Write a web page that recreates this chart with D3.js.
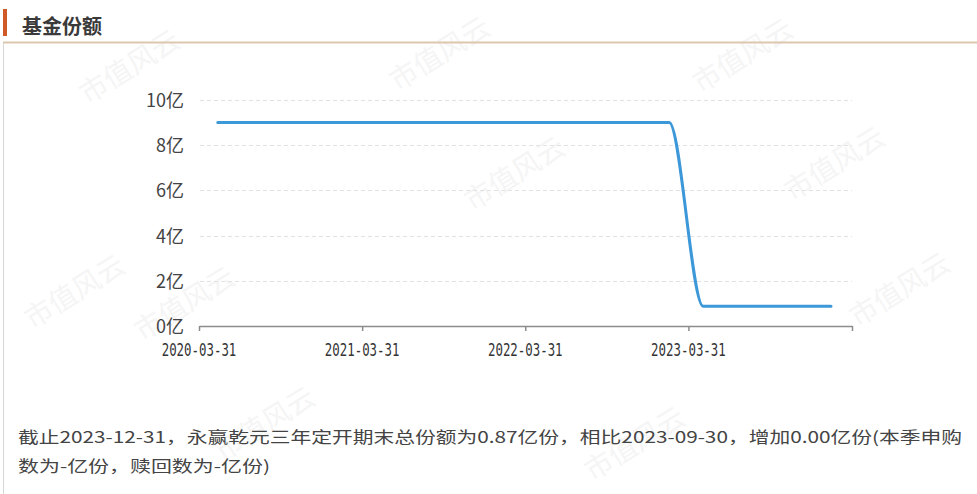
<!DOCTYPE html>
<html>
<head>
<meta charset="utf-8">
<script src="https://cdn.jsdelivr.net/npm/d3@7/dist/d3.min.js"></script>
<style>
  html, body { margin: 0; padding: 0; background: #fff; }
  svg { display: block; }
</style>
</head>
<body>
<svg id="chart" width="977" height="494"></svg>
<script>
// ---- data ----
const title = "基金份额";
const dates = ["2020-05-12","2020-06-30","2020-09-30","2020-12-31","2021-03-31","2021-06-30","2021-09-30","2021-12-31","2022-03-31","2022-06-30","2022-09-30","2022-12-31","2023-02-16","2023-05-03","2023-06-30","2023-09-30","2023-12-31","2024-02-13"];
const shares = [9.0,9.0,9.0,9.0,9.0,9.0,9.0,9.0,9.0,9.0,9.0,9.0,9.0,0.87,0.87,0.87,0.87,0.87];
const xTickLabels = ["2020-03-31","2021-03-31","2022-03-31","2023-03-31"];
const xDomain = ["2020-03-31","2024-03-31"];
const yTicks = [0,2,4,6,8,10];
const yUnit = "亿";
const footerLines = [
  "截止2023-12-31，永赢乾元三年定开期末总份额为0.87亿份，相比2023-09-30，增加0.00亿份(本季申购",
  "数为-亿份，赎回数为-亿份)"
];
const watermark = "市值风云";

// ---- drawing ----
const parse = d3.utcParse("%Y-%m-%d");
const svg = d3.select("#chart");

// watermarks
const wmPos = [[135,75],[445,62],[520,182],[748,64],[840,172],[905,298],[80,300],[190,312],[270,432],[640,452]];
svg.append("g").selectAll("text").data(wmPos).join("text")
  .attr("transform", d => `translate(${d[0]},${d[1]}) rotate(-32)`)
  .attr("text-anchor", "middle")
  .attr("font-family", "Noto Sans CJK SC")
  .attr("font-size", 28)
  .attr("fill", "#f5f5f5")
  .text(watermark);

// header
svg.append("rect").attr("x", 3).attr("y", 9).attr("width", 4).attr("height", 27).attr("fill", "#cf5a28");
svg.append("text").attr("x", 22).attr("y", 34)
  .attr("font-family", "Noto Sans CJK SC").attr("font-weight", "bold")
  .attr("font-size", 20).attr("fill", "#3a3a3a").text(title);
svg.append("line").attr("x1", 3).attr("x2", 977).attr("y1", 42.5).attr("y2", 42.5)
  .attr("stroke", "#dcc7ad").attr("stroke-width", 2);
svg.append("line").attr("x1", 3.5).attr("x2", 3.5).attr("y1", 43).attr("y2", 494)
  .attr("stroke", "#d6d6d6").attr("stroke-width", 1);

// scales
const x = d3.scaleUtc().domain(xDomain.map(parse)).range([199, 852]);
const y = d3.scaleLinear().domain([0, 10]).range([326, 100]);

// grid
svg.append("g").selectAll("line").data(yTicks.filter(d => d > 0)).join("line")
  .attr("x1", 200).attr("x2", 852)
  .attr("y1", d => Math.round(y(d)) + 0.5).attr("y2", d => Math.round(y(d)) + 0.5)
  .attr("stroke", "#e2e2e2").attr("stroke-dasharray", "4,3");

// y labels
svg.append("g").selectAll("text").data(yTicks).join("text")
  .attr("x", 184).attr("y", d => y(d) + 7)
  .attr("text-anchor", "end")
  .attr("font-family", "Noto Sans CJK SC")
  .attr("font-size", 18).attr("fill", "#444")
  .text(d => d + yUnit);

// x axis (line + ticks via d3 axis, labels drawn separately)
const tickDates = xTickLabels.map(parse).concat([parse(xDomain[1])]);
const xAxis = d3.axisBottom(x).tickValues(tickDates).tickSize(5).tickSizeOuter(0).tickFormat("");
const gx = svg.append("g").attr("transform", "translate(0,326)").call(xAxis);
gx.select(".domain").attr("stroke", "#8c8c8c").attr("stroke-width", 1.5);
gx.selectAll(".tick line").attr("stroke", "#8c8c8c").attr("stroke-width", 1.5);

svg.append("g").selectAll("text").data(xTickLabels).join("text")
  .attr("transform", d => `translate(${x(parse(d))},355.5) scale(1,1.42)`)
  .attr("text-anchor", "middle")
  .attr("font-family", "DejaVu Sans Mono")
  .attr("font-size", 12.4)
  .attr("fill", "#333")
  .text(d => d);

// line
const pts = dates.map((d, i) => [x(parse(d)), y(shares[i])]);
svg.append("path")
  .attr("d", d3.line().curve(d3.curveMonotoneX)(pts))
  .attr("fill", "none").attr("stroke", "#3c98d8").attr("stroke-width", 3)
  .attr("stroke-linecap", "round");

// footer
const fw = [944, 252];
svg.append("g").selectAll("text").data(footerLines).join("text")
  .attr("x", 18).attr("y", (d, i) => 443 + i * 29)
  .attr("font-family", "Noto Sans CJK SC").attr("font-size", 16).attr("fill", "#444")
  .attr("textLength", (d, i) => fw[i]).attr("lengthAdjust", "spacingAndGlyphs")
  .text(d => d);
</script>
</body>
</html>
